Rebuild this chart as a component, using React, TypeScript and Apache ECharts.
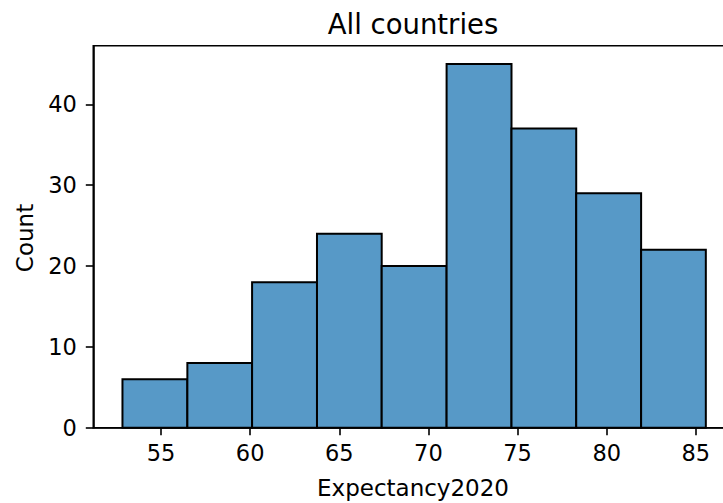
import React, { useEffect, useRef } from "react";
import * as echarts from "echarts";

const binEdges = [52.84, 56.48, 60.11, 63.75, 67.38, 71.02, 74.66, 78.29, 81.93, 85.56];
const counts = [6, 8, 18, 24, 20, 45, 37, 29, 22];
const xTicks = [55, 60, 65, 70, 75, 80, 85];
const yTicks = [0, 10, 20, 30, 40];
const titleText = "All countries";
const xLabel = "Expectancy2020";
const yLabel = "Count";

const FONT = "DejaVu Sans";

export default function App() {
  const ref = useRef<HTMLDivElement>(null);
  useEffect(() => {
    if (!ref.current) return;
    const chart = echarts.init(ref.current, undefined, { renderer: "svg" });
    const data = counts.map((c, i) => [binEdges[i], binEdges[i + 1], c]);
    const lo = binEdges[0];
    const hi = binEdges[binEdges.length - 1];
    const pad = (hi - lo) * 0.05;
    const ymax = Math.max(...counts) * 1.05;
    const lineW = 1.6;
    chart.setOption({
      animation: false,
      backgroundColor: "#ffffff",
      grid: {
        left: 93.3,
        top: 45.7,
        right: 10,
        bottom: 75.3,
        show: true,
        borderColor: "#000",
        borderWidth: lineW,
        backgroundColor: "transparent",
      },
      xAxis: {
        type: "value",
        min: lo - pad,
        max: hi + pad,
        axisLine: { show: true, onZero: false, lineStyle: { color: "#000", width: lineW } },
        axisTick: { show: true, length: 7.5, customValues: xTicks, lineStyle: { color: "#000", width: lineW } },
        axisLabel: {
          customValues: xTicks,
          margin: 14,
          color: "#000",
          fontFamily: FONT,
          fontSize: 22.5,
        },
        splitLine: { show: false },
      },
      yAxis: {
        type: "value",
        min: 0,
        max: ymax,
        axisLine: { show: true, lineStyle: { color: "#000", width: lineW } },
        axisTick: { show: true, length: 7.5, customValues: yTicks, lineStyle: { color: "#000", width: lineW } },
        axisLabel: {
          customValues: yTicks,
          margin: 16.5,
          color: "#000",
          fontFamily: FONT,
          fontSize: 22.5,
        },
        splitLine: { show: false },
      },
      series: [
        {
          type: "custom",
          encode: { x: [0, 1], y: 2 },
          data,
          renderItem: (params: any, api: any) => {
            const p0 = api.coord([api.value(0), 0]);
            const p1 = api.coord([api.value(1), api.value(2)]);
            return {
              type: "rect",
              shape: { x: p0[0], y: p1[1], width: p1[0] - p0[0], height: p0[1] - p1[1] },
              style: { fill: "#5799C7", stroke: "#000", lineWidth: 2 },
            };
          },
        },
      ],
      graphic: [
        {
          type: "text",
          x: 413,
          y: 23.5,
          style: {
            text: titleText,
            fontFamily: FONT,
            fontSize: 27.5,
            fill: "#000",
            textAlign: "center",
            textVerticalAlign: "middle",
          },
        },
        {
          type: "text",
          x: 413,
          y: 487.5,
          style: {
            text: xLabel,
            fontFamily: FONT,
            fontSize: 23,
            fill: "#000",
            textAlign: "center",
            textVerticalAlign: "middle",
          },
        },
        {
          type: "text",
          x: 25,
          y: 238,
          rotation: Math.PI / 2,
          style: {
            text: yLabel,
            fontFamily: FONT,
            fontSize: 23,
            fill: "#000",
            textAlign: "center",
            textVerticalAlign: "middle",
          },
        },
      ],
    });
    return () => chart.dispose();
  }, []);
  return (
    <div
      ref={ref}
      style={{ position: "fixed", left: 0, top: 0, width: 745, height: 503, background: "#fff" }}
    />
  );
}
